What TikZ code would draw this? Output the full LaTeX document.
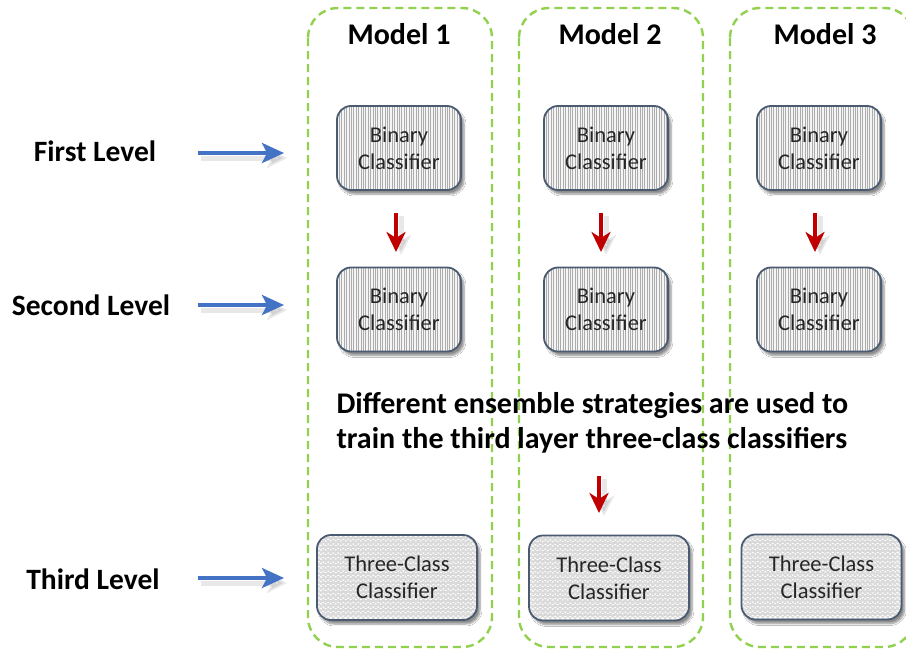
\documentclass[tikz,border=0pt]{standalone}
\usepackage{fontspec}
\setmainfont{Carlito}
\usetikzlibrary{arrows.meta,shadows.blur,decorations.pathmorphing}

\definecolor{groupgreen}{HTML}{92D050}
\definecolor{boxedge}{HTML}{4A5A70}
\definecolor{levelblue}{HTML}{4472C4}
\definecolor{stepred}{HTML}{C00000}

\tikzset{
  group/.style={draw=groupgreen, line width=2.4pt, dash pattern=on 8pt off 5pt,
    rounded corners=30pt},
  classbase/.style={draw=boxedge, line width=1.8pt, rounded corners=14pt,
    align=center, font=\fontsize{22.5}{27}\selectfont, text=black!85,
    blur shadow={shadow xshift=3pt, shadow yshift=-4pt, shadow opacity=45, shadow blur steps=6}},
  binbox/.style={classbase, minimum width=124pt, minimum height=84pt, fill=gray!8,
    path picture={
      \foreach \x in {0,2.4,...,130}
        \draw[gray!65, line width=0.7pt]
          ([xshift=\x pt]path picture bounding box.south west) --
          ([xshift=\x pt]path picture bounding box.north west);
    }},
  tribox/.style={classbase, minimum width=160pt, minimum height=85pt, fill=white,
    path picture={
      \foreach \y in {1,5.5,...,90}
        \draw[gray!30, line width=0.35pt, decorate,
              decoration={zigzag, segment length=5pt, amplitude=1.1pt}]
          ([yshift=\y pt]path picture bounding box.south west) --
          ([yshift=\y pt]path picture bounding box.south east);
    }},
  levellabel/.style={font=\bfseries\fontsize{29.5}{33}\selectfont},
  modellabel/.style={font=\bfseries\fontsize{30}{33}\selectfont},
  bluearrow/.style={levelblue, line width=3.4pt,
    -{Stealth[length=22pt, width=20pt, inset=5pt]}},
  redarrow/.style={stepred, line width=4.6pt,
    -{Stealth[length=20pt, width=19pt, inset=6pt]}},
  arrowshade/.style={black, opacity=0.09, line width=5pt,
    -{Stealth[length=20pt, width=20pt, inset=5pt]}},
}

\begin{document}
\begin{tikzpicture}[x=1pt, y=-1pt]
  \clip (0,0) rectangle (906,653);
  \useasboundingbox (0,0) rectangle (906,653);
  \fill[white] (0,0) rectangle (906,653);

  % dashed model groups
  \draw[group] (308,8) rectangle (492,647);
  \draw[group] (519,8) rectangle (703,647);
  \draw[group] (730,8) rectangle (914,647);

  % group headings
  \node[modellabel] (m1) at (399,34) {Model 1};
  \node[modellabel] (m2) at (610,34) {Model 2};
  \node[modellabel] (m3) at (825,34) {Model 3};

  % level labels
  \node[levellabel] (l1) at (95,151) {First Level};
  \node[levellabel] (l2) at (91,305) {Second Level};
  \node[levellabel] (l3) at (93,579) {Third Level};

  % classifiers
  \node[binbox] (a1) at (399,148) {Binary\\Classifier};
  \node[binbox] (a2) at (606,148) {Binary\\Classifier};
  \node[binbox] (a3) at (819,148) {Binary\\Classifier};
  \node[binbox] (b1) at (399,309.5) {Binary\\Classifier};
  \node[binbox] (b2) at (606,309.5) {Binary\\Classifier};
  \node[binbox] (b3) at (819,309.5) {Binary\\Classifier};
  \node[tribox] (c1) at (397,577.5) {Three-Class\\Classifier};
  \node[tribox] (c2) at (609,578) {Three-Class\\Classifier};
  \node[tribox] (c3) at (821.5,577) {Three-Class\\Classifier};

  % ensemble note
  \node[font=\bfseries\fontsize{30}{35}\selectfont, align=left, anchor=west]
    (note) at (333,423) {Different ensemble strategies are used to\\train the third layer three-class classifiers};

  % level pointers
  \coordinate (p1s) at (198,153); \coordinate (p1e) at (284,153);
  \coordinate (p2s) at (198,305); \coordinate (p2e) at (284,305);
  \coordinate (p3s) at (198,578); \coordinate (p3e) at (284,578);
  \foreach \s/\e in {p1s/p1e, p2s/p2e, p3s/p3e} {
    \draw[arrowshade] ([shift={(3,5)}]\s) -- ([shift={(3,5)}]\e);
    \draw[bluearrow] (\s) -- (\e);
  }

  % level-to-level steps
  \coordinate (q1s) at (396,213); \coordinate (q1e) at (396,252);
  \coordinate (q2s) at (601,213); \coordinate (q2e) at (601,252);
  \coordinate (q3s) at (815,213); \coordinate (q3e) at (815,252);
  \coordinate (q4s) at (599,476); \coordinate (q4e) at (599,513);
  \foreach \s/\e in {q1s/q1e, q2s/q2e, q3s/q3e, q4s/q4e} {
    \draw[arrowshade] ([shift={(5,3)}]\s) -- ([shift={(5,3)}]\e);
    \draw[redarrow] (\s) -- (\e);
  }
\end{tikzpicture}
\end{document}
